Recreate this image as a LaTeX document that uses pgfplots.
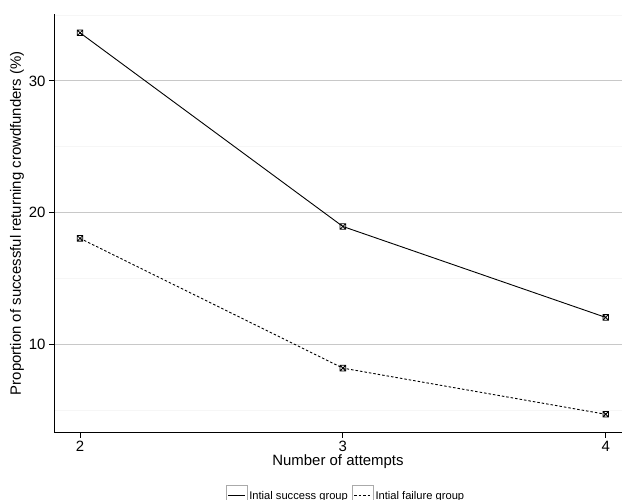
\documentclass[border=0pt]{standalone}
\usepackage{pgfplots}
\pgfplotsset{compat=1.18}
\usepackage{fontspec}
\setmainfont{Liberation Sans}
\definecolor{gridmaj}{RGB}{200,200,200}
\definecolor{gridmin}{RGB}{246,246,246}
\definecolor{keybox}{RGB}{170,170,170}
\pgfdeclareplotmark{sqx}{%
  \pgfpathrectangle{\pgfpoint{-\pgfplotmarksize}{-\pgfplotmarksize}}{\pgfpoint{2\pgfplotmarksize}{2\pgfplotmarksize}}%
  \pgfpathmoveto{\pgfpoint{-\pgfplotmarksize}{-\pgfplotmarksize}}%
  \pgfpathlineto{\pgfpoint{\pgfplotmarksize}{\pgfplotmarksize}}%
  \pgfpathmoveto{\pgfpoint{-\pgfplotmarksize}{\pgfplotmarksize}}%
  \pgfpathlineto{\pgfpoint{\pgfplotmarksize}{-\pgfplotmarksize}}%
  \pgfusepathqstroke}
\begin{document}
\begin{tikzpicture}
\path[use as bounding box] (0,0) rectangle (623bp,500bp);
\begin{axis}[
    at={(54bp,67.3bp)}, anchor=south west,
    scale only axis,
    width=568bp, height=419bp,
    xmin=1.901, xmax=4.062,
    ymin=3.3, ymax=35.1,
    axis x line*=bottom, axis y line*=left,
    axis line style={black, line width=0.8bp},
    xtick={2,3,4},
    ytick={10,20,30},
    minor ytick={5,15,25,35},
    ymajorgrids, yminorgrids,
    major grid style={gridmaj, line width=0.9bp},
    minor grid style={gridmin, line width=0.9bp},
    tick align=outside,
    major tick length=5bp,
    minor tick length=0pt,
    tick style={black, line width=0.8bp},
    ticklabel style={font=\fontsize{15}{17}\selectfont},
    /pgf/number format/assume math mode=true,
    xlabel={Number of attempts},
    ylabel={Proportion of successful returning crowdfunders (\%)},
    label style={font=\fontsize{15}{17}\selectfont},
    xlabel style={yshift=4bp},
    ylabel style={yshift=-2bp},
    legend columns=2,
    legend style={
        at={(axis description cs:0.514,-0.1487)}, anchor=center,
        draw=none, fill=none,
        font=\fontsize{11.2}{13}\selectfont,
        /tikz/every even column/.append style={column sep=2bp},
    },
    legend image code/.code={%
        \draw[keybox, solid, line width=0.6bp] (0bp,-9bp) rectangle (21bp,10.5bp);
        \draw[#1, mark=none] (2bp,0bp) -- (19bp,0bp);},
    mark size=2.8bp,
]
\addplot[black, line width=0.9bp, mark=sqx, mark options={solid, line width=0.8bp}]
    coordinates {(2,33.65) (3,18.95) (4,12.05)};
\addplot[black, line width=0.9bp, dash pattern=on 2.5bp off 2bp, mark=sqx, mark options={solid, line width=0.8bp}]
    coordinates {(2,18.05) (3,8.2) (4,4.7)};
\legend{Intial success group, Intial failure group}
\end{axis}
\end{tikzpicture}
\end{document}
